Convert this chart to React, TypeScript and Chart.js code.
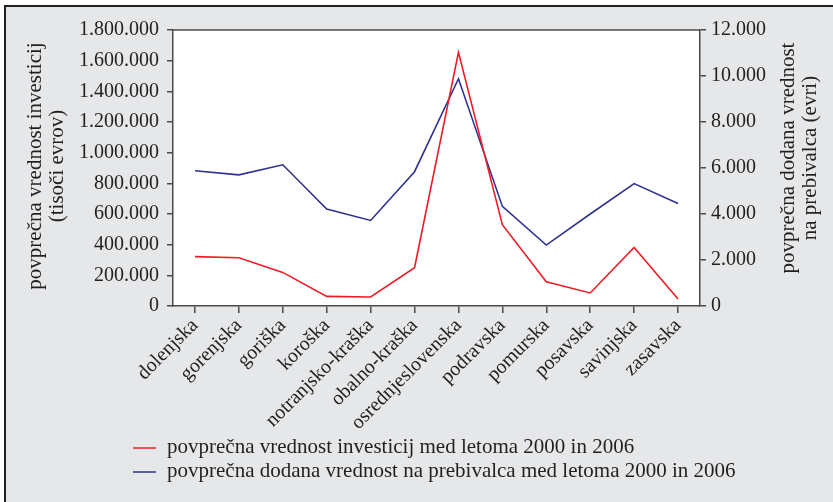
import React, { useEffect, useRef } from 'react';
import { Chart, registerables } from 'chart.js';

Chart.register(...registerables);

const categories = [
  'dolenjska', 'gorenjska', 'goriška', 'koroška', 'notranjsko-kraška', 'obalno-kraška',
  'osrednjeslovenska', 'podravska', 'pomurska', 'posavska', 'savinjska', 'zasavska',
];
const investicije = [322000, 315000, 219000, 63000, 59000, 250000, 1654000, 530000, 158000, 85000, 382000, 46000];
const dodanaVrednost = [5880, 5700, 6140, 4220, 3720, 5840, 9880, 4330, 2650, 4000, 5320, 4460];
const seriesLabels = [
  'povprečna vrednost investicij med letoma 2000 in 2006',
  'povprečna dodana vrednost na prebivalca med letoma 2000 in 2006',
];
const leftTitle = ['povprečna vrednost investicij', '(tisoči evrov)'];
const rightTitle = ['povprečna dodana vrednost', 'na prebivalca (evri)'];
const leftMax = 1800000;
const leftStep = 200000;
const rightMax = 12000;
const rightStep = 2000;

const RED = '#ee1c25';
const BLUE = '#2e3192';
const AXIS = '#4a4a4a';
const TEXT = '#231f20';
const FONT = '"Liberation Serif", "DejaVu Serif", serif';

const fmt = (v: number) => String(v).replace(/\B(?=(\d{3})+(?!\d))/g, '.');

const decor = {
  id: 'decor',
  beforeDraw(chart: any) {
    const { ctx, chartArea: ca } = chart;
    ctx.save();
    ctx.fillStyle = '#ffffff';
    ctx.fillRect(ca.left, ca.top, ca.right - ca.left, ca.bottom - ca.top);
    ctx.restore();
  },
  afterDraw(chart: any) {
    const { ctx, chartArea: ca } = chart;
    ctx.save();
    ctx.strokeStyle = AXIS;
    ctx.lineWidth = 1.5;
    ctx.beginPath();
    ctx.moveTo(ca.left, ca.top);
    ctx.lineTo(ca.right, ca.top);
    ctx.stroke();

    ctx.fillStyle = TEXT;
    ctx.font = `21px ${FONT}`;
    ctx.textAlign = 'center';
    ctx.textBaseline = 'middle';
    const rot = (t: string, x: number, y: number) => {
      ctx.save();
      ctx.translate(x, y);
      ctx.rotate(-Math.PI / 2);
      ctx.fillText(t, 0, 0);
      ctx.restore();
    };
    rot(leftTitle[0], 35, 166);
    rot(leftTitle[1], 57, 166);
    rot(rightTitle[0], 788, 158);
    rot(rightTitle[1], 810, 158);

    const colors = [RED, BLUE];
    const ys = [447, 471];
    ctx.textAlign = 'left';
    seriesLabels.forEach((lab, i) => {
      ctx.strokeStyle = colors[i];
      ctx.lineWidth = 1.5;
      ctx.beginPath();
      ctx.moveTo(133, ys[i] + 1);
      ctx.lineTo(156, ys[i] + 1);
      ctx.stroke();
      ctx.fillStyle = TEXT;
      ctx.fillText(lab, 167, ys[i]);
    });
    ctx.restore();
  },
};

export default function App() {
  const ref = useRef<HTMLCanvasElement>(null);
  useEffect(() => {
    if (!ref.current) return;
    const tickFont = { family: FONT, size: 20 };
    const chart = new Chart(ref.current, {
      type: 'line',
      data: {
        labels: categories,
        datasets: [
          {
            label: seriesLabels[0],
            data: investicije,
            borderColor: RED,
            borderWidth: 1.6,
            pointRadius: 0,
            tension: 0,
            yAxisID: 'y',
          },
          {
            label: seriesLabels[1],
            data: dodanaVrednost,
            borderColor: BLUE,
            borderWidth: 1.6,
            pointRadius: 0,
            tension: 0,
            yAxisID: 'y1',
          },
        ],
      },
      options: {
        responsive: false,
        animation: false,
        devicePixelRatio: 1,
        layout: { padding: { top: 30, left: 0, right: 0, bottom: 0 } },
        plugins: { legend: { display: false }, tooltip: { enabled: false } },
        scales: {
          x: {
            type: 'category',
            offset: true,
            grid: { offset: false, drawOnChartArea: false, drawTicks: true, tickLength: 7, color: AXIS, lineWidth: 1.5 },
            border: { color: AXIS, width: 1.5 },
            ticks: { autoSkip: false, minRotation: 45, maxRotation: 45, font: tickFont, color: TEXT, padding: 1 },
            afterFit: (s: any) => { s.height = 196; },
          },
          y: {
            position: 'left',
            min: 0,
            max: leftMax,
            grid: { drawOnChartArea: false, drawTicks: true, tickLength: 6, color: AXIS, lineWidth: 1.5 },
            border: { color: AXIS, width: 1.5 },
            ticks: { stepSize: leftStep, font: tickFont, color: TEXT, padding: 8, callback: (v: any) => fmt(Number(v)) },
            afterFit: (s: any) => { s.width = 173; },
          },
          y1: {
            position: 'right',
            min: 0,
            max: rightMax,
            grid: { drawOnChartArea: false, drawTicks: true, tickLength: 6, color: AXIS, lineWidth: 1.5 },
            border: { color: AXIS, width: 1.5 },
            ticks: { stepSize: rightStep, font: tickFont, color: TEXT, padding: 5, callback: (v: any) => fmt(Number(v)) },
            afterFit: (s: any) => { s.width = 133; },
          },
        },
      } as any,
      plugins: [decor],
    });
    return () => chart.destroy();
  }, []);

  return (
    <div style={{ position: 'fixed', left: 0, top: 0, width: 833, height: 502, background: '#ffffff' }}>
      <div
        style={{
          position: 'absolute', left: 4, top: 5, right: 0, bottom: 0,
          background: '#e6e7e8', borderTop: '2px solid #231f20', borderLeft: '2px solid #231f20',
        }}
      />
      <canvas ref={ref} width={833} height={502} style={{ position: 'absolute', left: 0, top: 0, width: 833, height: 502 }} />
    </div>
  );
}
